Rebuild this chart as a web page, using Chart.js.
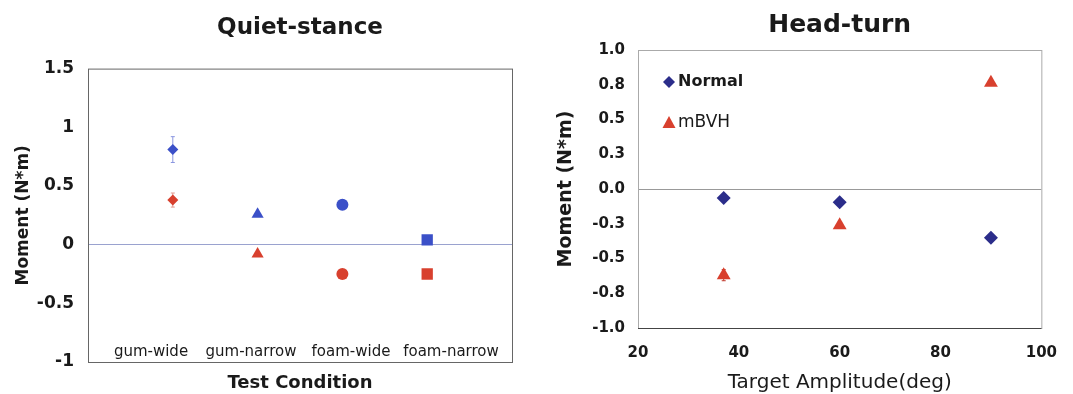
<!DOCTYPE html>
<html>
<head>
<meta charset="utf-8">
<script src="https://cdn.jsdelivr.net/npm/chart.js@4/dist/chart.umd.min.js"></script>
<style>
  html, body { margin: 0; padding: 0; background: #fff; }
  .panel { position: absolute; top: 0; height: 394px; }
  #leftBox { left: 0; width: 530px; }
  #rightBox { left: 540px; width: 533px; }
</style>
</head>
<body>
<div class="panel" id="leftBox"><canvas id="quietChart"></canvas></div>
<div class="panel" id="rightBox"><canvas id="headChart"></canvas></div>
<script>
// Quiet-stance
const conditions = ['gum-wide', 'gum-narrow', 'foam-wide', 'foam-narrow'];
const condShapes = ['rectRot', 'triangle', 'circle', 'rect'];
const quietBlue = [0.81, 0.26, 0.34, 0.04];
const quietBlueErr = [0.11, 0, 0, 0];
const quietRed = [0.38, -0.08, -0.25, -0.25];
const quietRedErr = [0.06, 0, 0, 0];
const quietTicks = [-1, -0.5, 0, 0.5, 1, 1.5];

// Head-turn
const amplitudes = [37, 60, 90];
const normalMoment = [-0.065, -0.095, -0.35];
const normalErr = [0, 0, 0];
const mbvhMoment = [-0.62, -0.26, 0.765];
const mbvhErr = [0.04, 0, 0];

const FONT = "'DejaVu Sans', sans-serif";
Chart.defaults.font.family = FONT;
Chart.defaults.color = '#1a1a1a';

const BLUE = '#3b50c8';
const RED = '#d8402e';
const NAVY = '#2b2d8a';

const sizeFor = s => s === 'rect' ? 8 : s === 'triangle' ? 7 : s === 'rectRot' ? 5.5 : 6;

// error bars from dataset.errors, drawn under the markers
const errorBars = {
    id: 'errorBars',
    beforeDatasetsDraw(chart) {
        const { ctx, scales: { y } } = chart;
        chart.data.datasets.forEach((ds, i) => {
            if (!ds.errors) return;
            const meta = chart.getDatasetMeta(i);
            ctx.save();
            ctx.strokeStyle = ds.errColor || ds.backgroundColor;
            ctx.lineWidth = 1;
            meta.data.forEach((pt, j) => {
                const e = ds.errors[j];
                if (!e) return;
                const v = ds.data[j].y;
                const top = y.getPixelForValue(v + e);
                const bot = y.getPixelForValue(v - e);
                ctx.beginPath();
                ctx.moveTo(pt.x, top); ctx.lineTo(pt.x, bot);
                ctx.moveTo(pt.x - 2, top); ctx.lineTo(pt.x + 2, top);
                ctx.moveTo(pt.x - 2, bot); ctx.lineTo(pt.x + 2, bot);
                ctx.stroke();
            });
            ctx.restore();
        });
    }
};

// frame round the plot area
const frame = {
    id: 'frame',
    beforeDatasetsDraw(chart, args, opts) {
        const { ctx, chartArea: a } = chart;
        ctx.save();
        ctx.lineWidth = 1;
        ctx.strokeStyle = opts.color || '#777';
        ctx.strokeRect(a.left + 0.5, a.top + 0.5, a.width, a.height);
        if (opts.bottom) {
            ctx.strokeStyle = opts.bottom;
            ctx.beginPath();
            ctx.moveTo(a.left, a.bottom + 0.5); ctx.lineTo(a.right, a.bottom + 0.5);
            ctx.stroke();
        }
        ctx.restore();
    }
};

// condition names sit inside the plot, along its bottom
const condLabels = {
    id: 'condLabels',
    afterDraw(chart) {
        const { ctx, chartArea: a } = chart;
        ctx.save();
        ctx.font = '15px ' + FONT;
        ctx.fillStyle = '#1a1a1a';
        ctx.textAlign = 'center';
        ctx.textBaseline = 'middle';
        conditions.forEach((c, i) => {
            ctx.fillText(c, a.left + 63 + i * 100, a.bottom - 10);
        });
        ctx.restore();
    }
};

// legend in the upper left of the head-turn plot
const cornerLegend = {
    id: 'cornerLegend',
    afterDraw(chart) {
        const { ctx, chartArea: a } = chart;
        const x = a.left + 31;
        ctx.save();
        chart.data.datasets.forEach((ds, i) => {
            const y = a.top + 32 + i * 41;
            ctx.fillStyle = ds.backgroundColor;
            ctx.beginPath();
            if (ds.pointStyle === 'triangle') {
                ctx.moveTo(x, y - 7); ctx.lineTo(x + 6.5, y + 5); ctx.lineTo(x - 6.5, y + 5);
            } else {
                ctx.moveTo(x, y - 6); ctx.lineTo(x + 6, y); ctx.lineTo(x, y + 6); ctx.lineTo(x - 6, y);
            }
            ctx.closePath();
            ctx.fill();
            ctx.fillStyle = '#1a1a1a';
            ctx.font = (i === 0 ? 'bold 16px ' : '17px ') + FONT;
            ctx.textBaseline = 'middle';
            ctx.fillText(ds.label, x + 9, y);
        });
        ctx.restore();
    }
};

new Chart(document.getElementById('quietChart'), {
    type: 'scatter',
    data: {
        datasets: [
            {
                label: 'blue', data: quietBlue.map((v, i) => ({ x: i + 1, y: v })),
                errors: quietBlueErr, errColor: '#8a96e0',
                pointStyle: condShapes, pointRadius: condShapes.map(sizeFor), pointHoverRadius: condShapes.map(sizeFor),
                backgroundColor: BLUE, borderColor: BLUE, borderWidth: 0,
            },
            {
                label: 'red', data: quietRed.map((v, i) => ({ x: i + 1, y: v })),
                errors: quietRedErr, errColor: '#e39a90',
                pointStyle: condShapes, pointRadius: condShapes.map(sizeFor), pointHoverRadius: condShapes.map(sizeFor),
                backgroundColor: RED, borderColor: RED, borderWidth: 0,
            },
        ],
    },
    options: {
        responsive: true, maintainAspectRatio: false, animation: false,
        layout: { padding: { left: 0, right: 18, top: 0, bottom: 0 } },
        plugins: {
            legend: { display: false },
            tooltip: { enabled: false },
            title: { display: true, fullSize: false, text: 'Quiet-stance', color: '#1a1a1a', font: { size: 23, weight: 'bold' }, padding: { top: 14, bottom: 27 } },
            frame: { color: '#666' },
        },
        scales: {
            x: {
                type: 'linear', min: 0, max: 5,
                ticks: { display: false },
                grid: { display: false },
                border: { display: false },
                title: { display: true, text: 'Test Condition', font: { size: 18, weight: 'bold' }, padding: 0 },
                afterFit: s => { s.height = 32; },
            },
            y: {
                min: -1, max: 1.5,
                afterBuildTicks: s => { s.ticks = quietTicks.map(v => ({ value: v })); },
                ticks: { font: { size: 17, weight: 'bold' }, padding: 14, callback: v => String(v) },
                grid: { drawTicks: false, lineWidth: 1, color: c => c.tick.value === 0 ? '#9aa2cf' : 'transparent' },
                border: { display: false },
                title: { display: true, text: 'Moment (N*m)', font: { size: 17, weight: 'bold' }, padding: { top: 13, bottom: 0 } },
                afterFit: s => { s.width = 88; },
            },
        },
    },
    plugins: [frame, errorBars, condLabels],
});

new Chart(document.getElementById('headChart'), {
    type: 'scatter',
    data: {
        datasets: [
            {
                label: 'Normal', data: normalMoment.map((v, i) => ({ x: amplitudes[i], y: v })),
                errors: normalErr,
                pointStyle: 'rectRot', pointRadius: 7, pointHoverRadius: 7,
                backgroundColor: NAVY, borderColor: NAVY, borderWidth: 0,
            },
            {
                label: 'mBVH', data: mbvhMoment.map((v, i) => ({ x: amplitudes[i], y: v })),
                errors: mbvhErr, errColor: '#c0392b',
                pointStyle: 'triangle', pointRadius: 8, pointHoverRadius: 8,
                backgroundColor: RED, borderColor: RED, borderWidth: 0,
            },
        ],
    },
    options: {
        responsive: true, maintainAspectRatio: false, animation: false,
        layout: { padding: { left: 0, right: 26, top: 0, bottom: 0 } },
        plugins: {
            legend: { display: false },
            tooltip: { enabled: false },
            title: { display: true, fullSize: false, text: 'Head-turn', color: '#1a1a1a', font: { size: 25, weight: 'bold' }, padding: { top: 10, bottom: 10 } },
            frame: { color: '#aaa', bottom: '#444' },
        },
        scales: {
            x: {
                type: 'linear', min: 20, max: 100,
                ticks: { stepSize: 20, font: { size: 15, weight: 'bold' }, padding: 16 },
                grid: { display: false, drawTicks: false },
                border: { display: false },
                title: { display: true, text: 'Target Amplitude(deg)', font: { size: 20, lineHeight: 1.1 }, padding: 0 },
                afterFit: s => { s.height = 66; },
            },
            y: {
                min: -1, max: 1,
                ticks: { stepSize: 0.25, font: { size: 15, weight: 'bold' }, padding: 13, callback: v => v.toFixed(1) },
                grid: { drawTicks: false, lineWidth: 1, color: c => c.tick.value === 0 ? '#999' : 'transparent' },
                border: { display: false },
                title: { display: true, text: 'Moment (N*m)', font: { size: 19, weight: 'bold' }, padding: { top: 15, bottom: 0 } },
                afterFit: s => { s.width = 98; },
            },
        },
    },
    plugins: [frame, errorBars, cornerLegend],
});
</script>
</body>
</html>
